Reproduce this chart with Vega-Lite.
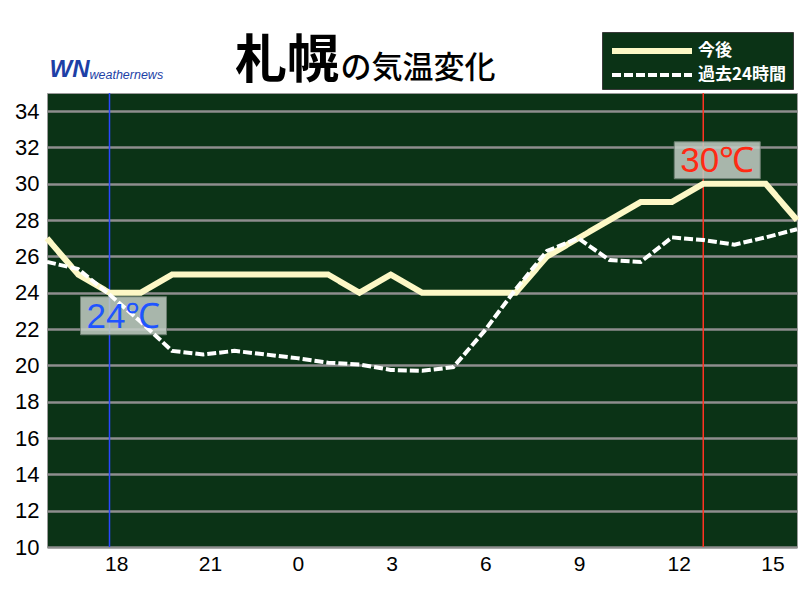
{
  "$schema": "https://vega.github.io/schema/vega-lite/v6.json",
  "width": 750,
  "height": 454,
  "autosize": {"type": "none"},
  "padding": {"left": 47, "top": 93, "right": 3, "bottom": 53},
  "background": "white",
  "title": {
    "text": "札幌",
    "subtitle": "\u200b\u3000\u3000\u3000\u2009\u2009の気温変化",
    "anchor": "start",
    "frame": "group",
    "dx": 188,
    "font": "Noto Sans CJK JP",
    "fontSize": 52,
    "fontWeight": "bold",
    "color": "#000000",
    "subtitleFont": "Noto Sans CJK JP",
    "subtitleFontSize": 31,
    "subtitleFontWeight": 500,
    "subtitleColor": "#000000",
    "subtitlePadding": -35,
    "offset": -57
  },
  "datasets": {
    "temps": [
      {"hour": 16, "temp": 27, "series": "今後"},
      {"hour": 17, "temp": 25, "series": "今後"},
      {"hour": 18, "temp": 24, "series": "今後"},
      {"hour": 19, "temp": 24, "series": "今後"},
      {"hour": 20, "temp": 25, "series": "今後"},
      {"hour": 21, "temp": 25, "series": "今後"},
      {"hour": 22, "temp": 25, "series": "今後"},
      {"hour": 23, "temp": 25, "series": "今後"},
      {"hour": 24, "temp": 25, "series": "今後"},
      {"hour": 25, "temp": 25, "series": "今後"},
      {"hour": 26, "temp": 24, "series": "今後"},
      {"hour": 27, "temp": 25, "series": "今後"},
      {"hour": 28, "temp": 24, "series": "今後"},
      {"hour": 29, "temp": 24, "series": "今後"},
      {"hour": 30, "temp": 24, "series": "今後"},
      {"hour": 31, "temp": 24, "series": "今後"},
      {"hour": 32, "temp": 26, "series": "今後"},
      {"hour": 33, "temp": 27, "series": "今後"},
      {"hour": 34, "temp": 28, "series": "今後"},
      {"hour": 35, "temp": 29, "series": "今後"},
      {"hour": 36, "temp": 29, "series": "今後"},
      {"hour": 37, "temp": 30, "series": "今後"},
      {"hour": 38, "temp": 30, "series": "今後"},
      {"hour": 39, "temp": 30, "series": "今後"},
      {"hour": 40, "temp": 28, "series": "今後"},
      {"hour": 16, "temp": 25.7, "series": "過去24時間"},
      {"hour": 17, "temp": 25.3, "series": "過去24時間"},
      {"hour": 18, "temp": 23.9, "series": "過去24時間"},
      {"hour": 19, "temp": 22.4, "series": "過去24時間"},
      {"hour": 20, "temp": 20.8, "series": "過去24時間"},
      {"hour": 21, "temp": 20.6, "series": "過去24時間"},
      {"hour": 22, "temp": 20.8, "series": "過去24時間"},
      {"hour": 23, "temp": 20.6, "series": "過去24時間"},
      {"hour": 24, "temp": 20.4, "series": "過去24時間"},
      {"hour": 25, "temp": 20.15, "series": "過去24時間"},
      {"hour": 26, "temp": 20.05, "series": "過去24時間"},
      {"hour": 27, "temp": 19.75, "series": "過去24時間"},
      {"hour": 28, "temp": 19.7, "series": "過去24時間"},
      {"hour": 29, "temp": 19.9, "series": "過去24時間"},
      {"hour": 30, "temp": 21.9, "series": "過去24時間"},
      {"hour": 31, "temp": 24.2, "series": "過去24時間"},
      {"hour": 32, "temp": 26.3, "series": "過去24時間"},
      {"hour": 33, "temp": 27.0, "series": "過去24時間"},
      {"hour": 34, "temp": 25.8, "series": "過去24時間"},
      {"hour": 35, "temp": 25.7, "series": "過去24時間"},
      {"hour": 36, "temp": 27.05, "series": "過去24時間"},
      {"hour": 37, "temp": 26.9, "series": "過去24時間"},
      {"hour": 38, "temp": 26.65, "series": "過去24時間"},
      {"hour": 39, "temp": 27.05, "series": "過去24時間"},
      {"hour": 40, "temp": 27.5, "series": "過去24時間"}
    ],
    "extremes": [
      {"hour": 18, "temp": 24, "label": "24℃", "kind": "min"},
      {"hour": 37, "temp": 30, "label": "30℃", "kind": "max"}
    ]
  },
  "config": {
    "view": {"fill": "#0b3316", "stroke": "#9a9a9a", "strokeWidth": 1}
  },
  "encoding": {
    "x": {
      "field": "hour",
      "type": "quantitative",
      "scale": {"domain": [16, 40], "nice": false, "zero": false},
      "axis": {
        "values": [18, 21, 24, 27, 30, 33, 36, 39],
        "labelExpr": "datum.value % 24",
        "grid": false,
        "ticks": false,
        "domain": false,
        "labelAlign": "left",
        "labelOffset": -5,
        "labelFont": "Liberation Sans",
        "labelFontSize": 21,
        "labelColor": "#000000",
        "labelPadding": 6,
        "title": "WN",
        "titleX": 22,
        "titleY": -478,
        "titleAlign": "center",
        "titleBaseline": "middle",
        "titleFont": "Liberation Sans",
        "titleFontStyle": "italic",
        "titleFontWeight": "bold",
        "titleFontSize": 24,
        "titleColor": "#1d3fa6"
      }
    },
    "y": {
      "field": "temp",
      "type": "quantitative",
      "scale": {"domain": [10, 35], "nice": false, "zero": false},
      "axis": {
        "values": [10, 12, 14, 16, 18, 20, 22, 24, 26, 28, 30, 32, 34],
        "grid": true,
        "gridColor": "#8e8e8e",
        "gridWidth": 2.5,
        "ticks": false,
        "domain": false,
        "labelFont": "Liberation Sans",
        "labelFontSize": 22,
        "labelColor": "#000000",
        "labelPadding": 8,
        "title": "weathernews",
        "titleX": 42,
        "titleY": -19,
        "titleAngle": 0,
        "titleAlign": "left",
        "titleBaseline": "middle",
        "titleFont": "Liberation Sans",
        "titleFontStyle": "italic",
        "titleFontWeight": "normal",
        "titleFontSize": 12.5,
        "titleColor": "#1d3fa6"
      }
    }
  },
  "layer": [
    {
      "mark": {"type": "rule", "color": "#a0a0a0", "strokeWidth": 1.5},
      "encoding": {"x": {"datum": 24}, "y": {"value": 0}, "y2": {"value": 454}}
    },
    {
      "data": {"name": "extremes"},
      "mark": {"type": "rule", "strokeWidth": 1.5},
      "encoding": {
        "y": {"value": 0},
        "y2": {"value": 454},
        "color": {"condition": {"test": "datum.kind == 'min'", "value": "#2a48ff"}, "value": "#ff3322"}
      }
    },
    {
      "data": {"name": "extremes"},
      "transform": [{"filter": "datum.kind == 'min'"}],
      "mark": {"type": "rect", "fill": "#c4cec6", "opacity": 0.85, "stroke": "#7d8a80", "strokeWidth": 1, "xOffset": -29, "x2Offset": 57, "yOffset": 4, "y2Offset": 42},
      "encoding": {"x2": {"field": "hour"}, "y2": {"field": "temp"}}
    },
    {
      "data": {"name": "extremes"},
      "transform": [{"filter": "datum.kind == 'max'"}],
      "mark": {"type": "rect", "fill": "#c4cec6", "opacity": 0.85, "stroke": "#7d8a80", "strokeWidth": 1, "xOffset": -29, "x2Offset": 57, "yOffset": -42, "y2Offset": -5},
      "encoding": {"x2": {"field": "hour"}, "y2": {"field": "temp"}}
    },
    {
      "data": {"name": "temps"},
      "mark": {"type": "line", "strokeJoin": "miter"},
      "encoding": {
        "color": {
          "field": "series",
          "type": "nominal",
          "scale": {"domain": ["今後", "過去24時間"], "range": ["#fdf8c6", "#ffffff"]},
          "legend": {
            "orient": "none",
            "legendX": 555,
            "legendY": -61,
            "title": null,
            "fillColor": "#0b3316",
            "strokeColor": "#3a3a3a",
            "padding": 6,
            "symbolType": "M-4,0H4",
            "symbolSize": 400,
            "symbolStrokeWidth": 4,
            "symbolOffset": 31,
            "labelOffset": 33,
            "labelFont": "Noto Sans CJK JP",
            "labelFontSize": 17,
            "labelFontWeight": "bold",
            "labelColor": "#ffffff",
            "rowPadding": -3
          }
        },
        "strokeDash": {
          "field": "series",
          "type": "nominal",
          "scale": {"domain": ["今後", "過去24時間"], "range": [[1, 0], [9, 3]]}
        },
        "strokeWidth": {
          "field": "series",
          "type": "nominal",
          "scale": {"domain": ["今後", "過去24時間"], "range": [6, 4]},
          "legend": null
        }
      }
    },
    {
      "data": {"name": "extremes"},
      "transform": [{"filter": "datum.kind == 'min'"}],
      "mark": {"type": "text", "font": "Liberation Sans", "fontSize": 35, "align": "center", "baseline": "middle", "dx": 14, "dy": 24, "color": "#1f55ff"},
      "encoding": {"text": {"field": "label"}}
    },
    {
      "data": {"name": "extremes"},
      "transform": [{"filter": "datum.kind == 'max'"}],
      "mark": {"type": "text", "font": "Liberation Sans", "fontSize": 35, "align": "center", "baseline": "middle", "dx": 14, "dy": -23, "color": "#ff2a14"},
      "encoding": {"text": {"field": "label"}}
    }
  ]
}
